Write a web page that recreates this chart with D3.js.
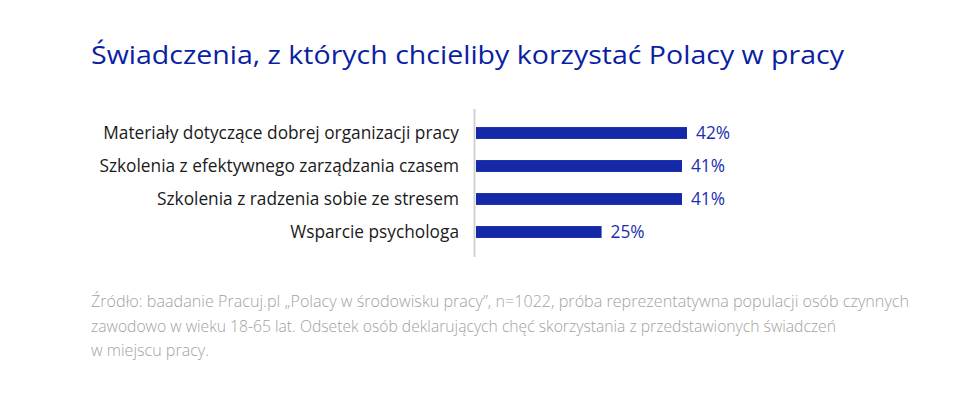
<!DOCTYPE html>
<html>
<head>
<meta charset="utf-8">
<script src="https://cdn.jsdelivr.net/npm/d3@7"></script>
<style>
  body { margin: 0; background: #fff; }
  svg { display: block; }
</style>
</head>
<body>
<script>
var title = "Świadczenia, z których chcieliby korzystać Polacy w pracy";
var categories = [
  "Materiały dotyczące dobrej organizacji pracy",
  "Szkolenia z efektywnego zarządzania czasem",
  "Szkolenia z radzenia sobie ze stresem",
  "Wsparcie psychologa"
];
var values = [42, 41, 41, 25];
var noteLines = [
  "Źródło: baadanie Pracuj.pl „Polacy w środowisku pracy”, n=1022, próba reprezentatywna populacji osób czynnych",
  "zawodowo w wieku 18-65 lat. Odsetek osób deklarujących chęć skorzystania z przedstawionych świadczeń",
  "w miejscu pracy."
];
var noteWidths = [818, 745, 118];

var width = 960, height = 414;

var svg = d3.select('body').append('svg')
  .attr('width', width)
  .attr('height', height);

svg.append('text')
  .attr('x', 91)
  .attr('y', 64)
  .attr('fill', '#0b1fa3')
  .style('font', '26px "Open Sans", sans-serif')
  .attr('textLength', 753)
  .attr('lengthAdjust', 'spacingAndGlyphs')
  .text(title);

var x = d3.scaleLinear()
  .domain([0, 42])
  .range([476, 687]);

var y = d3.scaleBand()
  .domain(categories)
  .range([116.5, 248.5])
  .paddingInner(0.64)
  .paddingOuter(0.32);

// thin grey axis line
svg.append('line')
  .attr('x1', 474.5).attr('x2', 474.5)
  .attr('y1', 109).attr('y2', 257)
  .attr('stroke', '#d2d2d2')
  .attr('stroke-width', 2);

svg.selectAll('.bar')
  .data(values)
  .enter()
  .append('rect')
    .attr('class', 'bar')
    .attr('x', x(0))
    .attr('y', function(d, i){ return y(categories[i]); })
    .attr('width', function(d){ return x(d) - x(0); })
    .attr('height', y.bandwidth())
    .attr('fill', '#1428a8');

svg.selectAll('.cat')
  .data(categories)
  .enter()
  .append('text')
    .attr('class', 'cat')
    .attr('x', 459)
    .attr('y', function(d){ return y(d) + y.bandwidth() / 2; })
    .attr('dy', '0.35em')
    .attr('text-anchor', 'end')
    .attr('fill', '#1a1a1a')
    .style('font', '17.3px "Open Sans", sans-serif')
    .text(function(d){ return d; });

svg.selectAll('.val')
  .data(values)
  .enter()
  .append('text')
    .attr('class', 'val')
    .attr('x', function(d){ return x(d) + 9; })
    .attr('y', function(d, i){ return y(categories[i]) + y.bandwidth() / 2; })
    .attr('dy', '0.37em')
    .attr('fill', '#1a30b0')
    .style('font', '17.3px "Open Sans", sans-serif')
    .text(function(d){ return d + '%'; });

svg.selectAll('.note')
  .data(noteLines)
  .enter()
  .append('text')
    .attr('class', 'note')
    .attr('x', 91)
    .attr('y', function(d, i){ return 307 + i * 24.5; })
    .attr('fill', '#a2a2a2')
    .style('font', '300 17px "Open Sans", sans-serif')
    .attr('textLength', function(d, i){ return noteWidths[i]; })
    .attr('lengthAdjust', 'spacingAndGlyphs')
    .text(function(d){ return d; });
</script>
</body>
</html>
